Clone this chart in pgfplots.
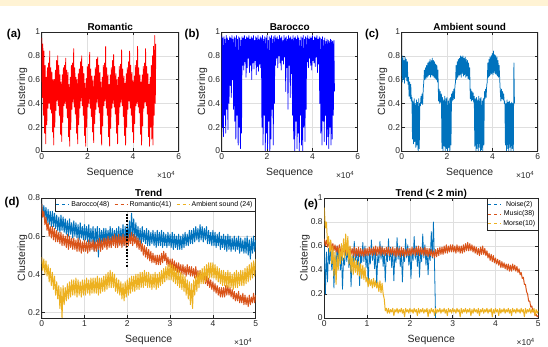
\documentclass[border=0pt]{standalone}
\usepackage{pgfplots}
\pgfplotsset{compat=1.18}
\usepackage{fontspec}
\setmainfont{Liberation Sans}
\definecolor{mblue}{HTML}{0072BD}
\definecolor{morange}{HTML}{D95319}
\definecolor{myellow}{HTML}{EDB120}
\definecolor{axgray}{HTML}{262626}
\definecolor{gridc}{HTML}{DFDFDF}
\definecolor{cream}{HTML}{FFF3D4}
\pgfplotsset{
  panel/.style={
    scale only axis, anchor=south west,
    axis line style={axgray, line width=0.5pt},
    tick style={axgray, line width=0.5pt},
    major tick length=3bp, tick align=inside,
    grid=major, major grid style={gridc, line width=0.4pt},
    ticklabel style={font=\fontsize{8.5}{9}\selectfont, text=axgray},
    yticklabel style={inner sep=1.5bp},
    xticklabel style={inner sep=2bp},
    /pgf/number format/assume math mode=true,
    xlabel style={font=\fontsize{10.5}{11}\selectfont, text=axgray, yshift=-3bp},
    ylabel style={font=\fontsize{10.5}{11}\selectfont, text=axgray, yshift=-4bp},
    title style={font=\bfseries\fontsize{10}{11}\selectfont, text depth=0pt, yshift=-8bp},
    xlabel={Sequence}, ylabel={Clustering},
  },
  sig/.style={line width=0.75pt, line join=round, forget plot},
}
\newcommand{\xten}[1]{\node[anchor=east, font=\fontsize{8.5}{9}\selectfont, text=axgray] at ([yshift=-24bp]#1.south east) {×10\textsuperscript{4}};}
\begin{document}
\begin{tikzpicture}
\path[use as bounding box] (0,0) rectangle (548bp,347bp);
\fill[white] (0,0) rectangle (548bp,347bp);
\fill[cream] (0,341bp) rectangle (548bp,347bp);

% (a) Romantic
\begin{axis}[panel, name=a, at={(41.7bp,196bp)}, width=137bp, height=119bp,
  xmin=0, xmax=6, ymin=0, ymax=1, xtick={0,2,4,6}, ytick={0,0.2,0.4,0.6,0.8,1}, title={Romantic}]
\addplot[sig, red] table[row sep=\\, y=y, x expr=\coordindex*0.025] {y\\
0.95\\0.45\\0.90\\0.30\\0.84\\0.15\\0.72\\0.06\\
0.62\\0.22\\0.70\\0.36\\0.74\\0.40\\0.84\\0.35\\0.70\\0.32\\0.66\\0.16\\0.60\\0.05\\
0.60\\0.20\\0.68\\0.34\\0.76\\0.42\\0.80\\0.38\\0.72\\0.30\\0.64\\0.14\\0.58\\0.08\\
0.64\\0.24\\0.70\\0.38\\0.72\\0.40\\0.78\\0.36\\0.68\\0.28\\0.66\\0.12\\0.56\\0.04\\
0.62\\0.18\\0.72\\0.35\\0.74\\0.41\\0.86\\0.37\\0.70\\0.31\\0.62\\0.15\\0.60\\0.06\\
0.65\\0.22\\0.69\\0.36\\0.75\\0.42\\0.80\\0.38\\0.71\\0.30\\0.65\\0.13\\0.57\\0.04\\
0.61\\0.20\\0.71\\0.37\\0.73\\0.40\\0.83\\0.36\\0.69\\0.29\\0.63\\0.16\\0.59\\0.07\\
0.63\\0.23\\0.70\\0.35\\0.77\\0.41\\0.79\\0.37\\0.72\\0.32\\0.66\\0.14\\0.58\\0.05\\
0.62\\0.21\\0.72\\0.38\\0.74\\0.42\\0.88\\0.36\\0.70\\0.30\\0.64\\0.12\\0.56\\0.04\\
0.64\\0.19\\0.70\\0.36\\0.76\\0.40\\0.81\\0.37\\0.71\\0.31\\0.65\\0.15\\0.60\\0.06\\
0.62\\0.22\\0.71\\0.37\\0.73\\0.41\\0.85\\0.38\\0.69\\0.29\\0.63\\0.13\\0.57\\0.05\\
0.65\\0.20\\0.70\\0.35\\0.75\\0.42\\0.84\\0.36\\0.72\\0.30\\0.66\\0.16\\0.59\\0.07\\
0.63\\0.23\\0.72\\0.38\\0.76\\0.40\\0.88\\0.37\\0.70\\0.32\\0.64\\0.14\\0.58\\0.05\\
0.64\\0.21\\0.71\\0.36\\0.74\\0.41\\0.86\\0.38\\0.71\\0.31\\0.65\\0.12\\0.56\\0.04\\
0.62\\0.20\\0.72\\0.10\\0.80\\0.05\\0.88\\0.30\\0.97\\0.40\\0.90\\
};
\end{axis}

% (b) Barocco
\begin{axis}[panel, name=b, at={(221.7bp,196bp)}, width=136bp, height=119bp,
  xmin=0, xmax=6, ymin=0, ymax=1, xtick={0,2,4,6}, ytick={0,0.2,0.4,0.6,0.8,1}, title={Barocco}]
\addplot[sig, blue] table[row sep=\\, y=y, x expr=\coordindex*0.025] {y\\
0.97\\0.20\\0.95\\0.12\\0.96\\0.30\\0.94\\0.15\\0.97\\0.35\\0.95\\0.18\\0.93\\0.40\\
0.96\\0.55\\0.95\\0.45\\0.97\\0.60\\0.94\\0.35\\0.96\\0.25\\
0.95\\0.10\\0.97\\0.30\\0.94\\0.05\\0.96\\0.20\\0.95\\0.02\\0.93\\0.15\\0.96\\
0.72\\0.95\\0.68\\0.97\\0.75\\0.94\\0.62\\0.96\\0.70\\0.95\\0.78\\0.97\\0.66\\0.94\\0.72\\0.96\\0.60\\0.95\\0.74\\0.97\\
0.69\\0.93\\0.76\\0.96\\0.64\\0.95\\0.71\\0.97\\0.67\\0.94\\0.73\\0.96\\0.70\\
0.95\\0.20\\0.97\\0.05\\0.94\\0.30\\0.96\\0.00\\0.95\\0.15\\0.97\\0.02\\0.93\\0.25\\0.96\\0.00\\0.95\\0.10\\0.97\\0.35\\0.94\\0.05\\0.96\\0.40\\
0.97\\0.72\\0.95\\0.78\\0.96\\0.70\\0.94\\0.80\\0.97\\0.74\\0.95\\0.68\\0.96\\0.76\\0.93\\0.73\\0.97\\0.79\\
0.95\\0.50\\0.96\\0.70\\0.94\\0.35\\0.97\\0.72\\0.95\\0.45\\0.96\\0.65\\0.94\\0.30\\
0.97\\0.10\\0.95\\0.00\\0.96\\0.25\\0.94\\0.02\\0.97\\0.15\\0.95\\0.00\\0.93\\0.30\\0.96\\0.05\\0.95\\0.00\\0.97\\0.20\\0.94\\0.08\\0.96\\0.35\\0.95\\
0.75\\0.97\\0.70\\0.94\\0.78\\0.96\\0.72\\0.95\\0.68\\0.97\\0.76\\0.93\\0.74\\0.96\\0.71\\0.95\\0.79\\0.97\\0.66\\0.94\\0.73\\0.96\\
0.40\\0.95\\0.15\\0.94\\0.05\\0.96\\0.25\\0.93\\0.08\\0.95\\0.30\\0.92\\0.05\\0.94\\0.12\\0.93\\0.02\\0.92\\0.20\\0.94\\0.05\\0.93\\0.10\\0.92\\0.30\\0.93\\0.50\\
};
\end{axis}

% (c) Ambient sound
\begin{axis}[panel, name=c, at={(401.7bp,196bp)}, width=136bp, height=119bp,
  xmin=0, xmax=6, ymin=0, ymax=1, xtick={0,2,4,6}, ytick={0,0.2,0.4,0.6,0.8,1}, title={Ambient sound}]
\addplot[sig, mblue] table[row sep=\\, y=y, x expr=\coordindex*0.025] {y\\
0.78\\0.58\\0.80\\0.60\\0.76\\0.57\\0.79\\0.62\\0.77\\0.59\\0.75\\0.56\\
0.62\\0.46\\0.58\\0.44\\0.56\\0.42\\
0.45\\0.10\\0.42\\0.06\\0.44\\0.08\\0.40\\0.03\\0.43\\0.05\\0.41\\0.00\\0.44\\0.02\\0.40\\
0.38\\0.46\\0.40\\0.48\\0.39\\0.52\\
0.58\\0.68\\0.60\\0.70\\0.61\\0.72\\0.62\\0.74\\0.63\\0.75\\0.64\\0.77\\0.62\\0.76\\0.64\\0.78\\0.63\\0.76\\0.62\\0.75\\0.61\\0.73\\0.60\\0.72\\0.58\\0.68\\
0.42\\0.52\\0.40\\0.50\\0.41\\0.48\\
0.02\\0.45\\0.00\\0.43\\0.04\\0.46\\0.00\\0.44\\0.02\\0.45\\0.00\\0.42\\0.03\\0.44\\0.00\\0.45\\0.05\\
0.48\\0.42\\0.50\\0.43\\0.52\\0.44\\0.55\\0.58\\
0.72\\0.60\\0.75\\0.62\\0.77\\0.63\\0.78\\0.64\\0.80\\0.62\\0.79\\0.65\\0.80\\0.63\\0.78\\0.64\\0.79\\0.62\\0.77\\0.63\\0.76\\0.61\\0.74\\0.60\\0.70\\
0.44\\0.52\\0.42\\0.50\\0.43\\0.49\\0.41\\
0.46\\0.04\\0.44\\0.00\\0.45\\0.02\\0.43\\0.00\\0.46\\0.03\\0.44\\0.00\\0.45\\0.01\\0.42\\0.00\\0.44\\0.05\\
0.50\\0.44\\0.52\\0.45\\0.55\\0.58\\
0.74\\0.62\\0.77\\0.63\\0.79\\0.64\\0.80\\0.65\\0.82\\0.64\\0.84\\0.66\\0.81\\0.65\\0.80\\0.64\\0.79\\0.63\\0.76\\0.62\\0.72\\0.60\\
0.50\\0.42\\0.52\\0.44\\0.50\\0.43\\0.48\\0.40\\
0.42\\0.05\\0.40\\0.00\\0.43\\0.02\\0.41\\0.00\\0.42\\0.03\\0.40\\0.00\\0.41\\0.02\\0.40\\0.00\\
0.74\\0.40\\
};
\end{axis}

% (d) Trend
\begin{axis}[panel, name=d, at={(41.7bp,29bp)}, width=214bp, height=120bp,
  xmin=0, xmax=5, ymin=0.17, ymax=0.8, xtick={0,1,2,3,4,5}, ytick={0.2,0.4,0.6,0.8}, title={Trend},
  legend columns=3,
  legend style={at={(1,1)}, anchor=north east, font=\fontsize{7}{8}\selectfont, draw=axgray, line width=0.4pt,
    inner sep=1pt, /tikz/every even column/.append style={column sep=3pt}},
  legend image code/.code={\draw[#1] (0cm,0cm) -- (0.45cm,0cm);}]
\addlegendimage{mblue, dashed, line width=0.5pt}\addlegendentry{Barocco(48)}
\addlegendimage{morange, dashed, line width=0.5pt}\addlegendentry{Romantic(41)}
\addlegendimage{myellow, dashed, line width=0.5pt}\addlegendentry{Ambient sound (24)}
\addplot[sig, mblue, line width=1pt] table[row sep=\\, y=y, x expr=\coordindex*0.025] {y\\
0.77\\0.70\\0.76\\0.69\\0.75\\0.67\\0.74\\0.66\\0.73\\0.65\\
0.73\\0.65\\0.72\\0.64\\0.71\\0.63\\0.70\\0.62\\0.71\\0.63\\
0.70\\0.62\\0.69\\0.61\\0.68\\0.60\\0.69\\0.61\\0.67\\0.59\\
0.68\\0.60\\0.67\\0.59\\0.66\\0.58\\0.67\\0.59\\0.65\\0.58\\
0.66\\0.58\\0.65\\0.57\\0.66\\0.56\\0.64\\0.57\\0.65\\0.52\\
0.64\\0.57\\0.65\\0.49\\0.64\\0.56\\0.63\\0.57\\0.64\\0.56\\
0.64\\0.56\\0.63\\0.57\\0.65\\0.55\\0.64\\0.56\\0.63\\0.57\\
0.64\\0.55\\0.65\\0.56\\0.64\\0.57\\0.66\\0.55\\0.65\\0.57\\
0.66\\0.57\\0.68\\0.59\\0.72\\0.60\\0.69\\0.59\\0.67\\0.58\\
0.65\\0.57\\0.64\\0.56\\0.65\\0.57\\0.63\\0.56\\0.64\\0.55\\
0.63\\0.55\\0.62\\0.56\\0.63\\0.55\\0.62\\0.54\\0.63\\0.55\\
0.62\\0.55\\0.63\\0.54\\0.62\\0.55\\0.61\\0.54\\0.62\\0.55\\
0.61\\0.54\\0.62\\0.53\\0.61\\0.54\\0.60\\0.53\\0.61\\0.53\\
0.60\\0.53\\0.61\\0.54\\0.62\\0.55\\0.61\\0.55\\0.63\\0.56\\
0.63\\0.56\\0.64\\0.57\\0.65\\0.58\\0.64\\0.57\\0.66\\0.58\\
0.65\\0.57\\0.64\\0.58\\0.65\\0.56\\0.63\\0.56\\0.62\\0.55\\
0.63\\0.55\\0.62\\0.54\\0.61\\0.55\\0.62\\0.53\\0.60\\0.54\\
0.61\\0.53\\0.60\\0.52\\0.61\\0.53\\0.60\\0.52\\0.59\\0.53\\
0.60\\0.52\\0.59\\0.53\\0.60\\0.51\\0.59\\0.52\\0.58\\0.51\\
0.59\\0.51\\0.60\\0.50\\0.58\\0.48\\0.59\\0.51\\0.60\\0.52\\
0.58\\
};
\addplot[sig, morange, line width=1pt] table[row sep=\\, y=y, x expr=\coordindex*0.025] {y\\
0.77\\0.70\\0.73\\0.66\\0.70\\0.63\\0.67\\0.60\\0.65\\0.59\\
0.65\\0.58\\0.64\\0.57\\0.63\\0.57\\0.62\\0.56\\0.62\\0.55\\
0.61\\0.55\\0.60\\0.54\\0.61\\0.53\\0.60\\0.54\\0.59\\0.53\\
0.59\\0.53\\0.58\\0.52\\0.59\\0.52\\0.58\\0.51\\0.57\\0.52\\
0.58\\0.52\\0.57\\0.51\\0.58\\0.52\\0.57\\0.53\\0.58\\0.52\\
0.57\\0.52\\0.58\\0.53\\0.59\\0.52\\0.58\\0.53\\0.59\\0.54\\
0.59\\0.53\\0.60\\0.54\\0.59\\0.54\\0.60\\0.55\\0.61\\0.54\\
0.60\\0.54\\0.61\\0.55\\0.60\\0.54\\0.61\\0.55\\0.60\\0.54\\
0.60\\0.55\\0.61\\0.56\\0.62\\0.55\\0.61\\0.56\\0.60\\0.54\\
0.59\\0.53\\0.58\\0.52\\0.56\\0.50\\0.55\\0.49\\0.54\\0.48\\
0.53\\0.47\\0.52\\0.46\\0.51\\0.46\\0.50\\0.45\\0.50\\0.45\\
0.50\\0.45\\0.51\\0.46\\0.52\\0.47\\0.51\\0.45\\0.49\\0.44\\
0.48\\0.43\\0.48\\0.42\\0.47\\0.42\\0.46\\0.41\\0.46\\0.41\\
0.45\\0.40\\0.45\\0.40\\0.44\\0.39\\0.45\\0.40\\0.44\\0.39\\
0.44\\0.39\\0.43\\0.38\\0.44\\0.38\\0.42\\0.37\\0.42\\0.37\\
0.41\\0.36\\0.40\\0.35\\0.39\\0.34\\0.38\\0.33\\0.37\\0.32\\
0.36\\0.31\\0.35\\0.30\\0.34\\0.29\\0.33\\0.28\\0.33\\0.28\\
0.33\\0.28\\0.34\\0.29\\0.34\\0.29\\0.33\\0.28\\0.32\\0.27\\
0.31\\0.26\\0.30\\0.26\\0.31\\0.25\\0.29\\0.25\\0.30\\0.24\\
0.29\\0.24\\0.28\\0.23\\0.29\\0.24\\0.28\\0.25\\0.30\\0.25\\
0.29\\
};
\addplot[sig, myellow, line width=1pt] table[row sep=\\, y=y, x expr=\coordindex*0.025] {y\\
0.49\\0.42\\0.48\\0.40\\0.47\\0.39\\0.45\\0.36\\0.43\\0.34\\
0.41\\0.32\\0.39\\0.29\\0.36\\0.27\\0.34\\0.22\\0.33\\0.17\\
0.34\\0.24\\0.33\\0.26\\0.35\\0.27\\0.36\\0.28\\0.37\\0.29\\
0.37\\0.29\\0.38\\0.28\\0.37\\0.29\\0.36\\0.28\\0.37\\0.29\\
0.37\\0.29\\0.38\\0.30\\0.37\\0.29\\0.38\\0.30\\0.38\\0.30\\
0.38\\0.30\\0.39\\0.29\\0.38\\0.30\\0.38\\0.31\\0.39\\0.31\\
0.40\\0.32\\0.41\\0.33\\0.42\\0.33\\0.41\\0.33\\0.40\\0.31\\
0.38\\0.30\\0.37\\0.29\\0.36\\0.27\\0.35\\0.26\\0.36\\0.28\\
0.37\\0.29\\0.38\\0.30\\0.39\\0.31\\0.39\\0.31\\0.40\\0.32\\
0.40\\0.32\\0.41\\0.33\\0.41\\0.33\\0.42\\0.34\\0.41\\0.33\\
0.41\\0.33\\0.40\\0.32\\0.40\\0.33\\0.41\\0.32\\0.40\\0.33\\
0.41\\0.34\\0.42\\0.35\\0.43\\0.36\\0.44\\0.37\\0.45\\0.37\\
0.46\\0.37\\0.45\\0.36\\0.44\\0.35\\0.43\\0.34\\0.42\\0.33\\
0.41\\0.32\\0.40\\0.31\\0.39\\0.29\\0.37\\0.27\\0.36\\0.24\\
0.35\\0.22\\0.37\\0.29\\0.39\\0.31\\0.41\\0.33\\0.42\\0.35\\
0.43\\0.35\\0.44\\0.36\\0.45\\0.37\\0.46\\0.38\\0.46\\0.38\\
0.46\\0.38\\0.45\\0.37\\0.44\\0.36\\0.43\\0.35\\0.42\\0.34\\
0.42\\0.34\\0.41\\0.33\\0.42\\0.33\\0.41\\0.33\\0.40\\0.32\\
0.41\\0.33\\0.42\\0.33\\0.41\\0.34\\0.42\\0.34\\0.42\\0.34\\
0.43\\0.35\\0.44\\0.36\\0.45\\0.37\\0.46\\0.38\\0.47\\0.39\\
0.48\\
};
\addplot[black, line width=2pt, dash pattern=on 1.6pt off 1.6pt, forget plot] coordinates {(2,0.44) (2,0.72)};
\end{axis}

% (e) Trend (< 2 min)
\begin{axis}[panel, name=e, at={(324.3bp,29bp)}, width=214bp, height=120bp,
  xmin=0, xmax=5, ymin=0, ymax=1, xtick={0,1,2,3,4,5}, ytick={0,0.2,0.4,0.6,0.8,1}, title={Trend (< 2 min)},
  legend style={at={(1,1)}, anchor=north east, font=\fontsize{7}{8}\selectfont, draw=axgray, line width=0.4pt,
    inner sep=1pt, row sep=-1pt},
  legend image code/.code={\draw[#1] (0cm,0cm) -- (0.45cm,0cm);}]
\addlegendimage{mblue, dashed, line width=0.5pt}\addlegendentry{Noise(2)}
\addlegendimage{morange, dashed, line width=0.5pt}\addlegendentry{Music(38)}
\addlegendimage{myellow, dashed, line width=0.5pt}\addlegendentry{Morse(10)}
\addplot[sig, mblue, line width=0.8pt] table[row sep=\\, y=y, x expr=\coordindex*0.025] {y\\
0.62\\0.20\\0.55\\0.30\\0.58\\0.45\\0.60\\0.40\\
0.55\\0.25\\0.52\\0.42\\0.60\\0.46\\0.58\\0.40\\
0.54\\0.24\\0.50\\0.44\\0.62\\0.47\\0.59\\0.42\\
0.55\\0.26\\0.52\\0.45\\0.64\\0.48\\0.58\\0.41\\
0.54\\0.27\\0.53\\0.46\\0.63\\0.47\\0.60\\0.42\\
0.55\\0.28\\0.54\\0.45\\0.65\\0.48\\0.59\\0.41\\
0.56\\0.27\\0.53\\0.46\\0.64\\0.49\\0.60\\0.43\\
0.55\\0.30\\0.54\\0.47\\0.66\\0.48\\0.59\\0.42\\
0.56\\0.31\\0.55\\0.46\\0.67\\0.49\\0.60\\0.43\\
0.55\\0.30\\0.54\\0.47\\0.66\\0.50\\0.61\\0.44\\
0.56\\0.33\\0.55\\0.48\\0.68\\0.49\\0.60\\0.43\\
0.57\\0.34\\0.56\\0.47\\0.70\\0.50\\0.61\\0.44\\
0.56\\0.36\\0.55\\0.48\\0.72\\0.50\\0.80\\0.45\\
0.00\\
};
\addplot[sig, morange, line width=1pt] table[row sep=\\, y=y, x expr=\coordindex*0.025] {y\\
0.66\\0.60\\0.65\\0.59\\0.64\\0.58\\0.63\\0.57\\0.62\\0.56\\
0.61\\0.55\\0.60\\0.54\\0.61\\0.53\\0.60\\0.54\\0.59\\0.53\\
0.59\\0.53\\0.58\\0.52\\0.59\\0.53\\0.58\\0.52\\0.59\\0.51\\
0.58\\0.52\\0.59\\0.51\\0.58\\0.52\\0.57\\0.51\\0.58\\0.52\\
0.58\\0.52\\0.59\\0.53\\0.58\\0.52\\0.59\\0.53\\0.60\\0.52\\
0.59\\0.53\\0.60\\0.52\\0.59\\0.53\\0.58\\0.52\\0.59\\0.53\\
0.59\\0.52\\0.58\\0.53\\0.59\\0.52\\0.58\\0.51\\0.59\\0.52\\
0.58\\0.51\\0.59\\0.52\\0.58\\0.51\\0.57\\0.52\\0.58\\0.52\\
0.58\\0.52\\0.59\\0.53\\0.58\\0.52\\0.59\\0.53\\0.60\\0.52\\
0.59\\0.53\\0.58\\0.52\\0.59\\0.52\\0.58\\0.51\\0.58\\0.52\\
0.57\\0.51\\0.56\\0.50\\0.57\\0.51\\0.58\\0.52\\0.59\\0.53\\
0.59\\0.53\\0.60\\0.54\\0.61\\0.54\\0.60\\0.55\\0.61\\0.55\\
0.61\\0.55\\0.60\\0.54\\0.61\\0.55\\0.60\\0.54\\0.60\\0.54\\
0.61\\0.55\\0.62\\0.56\\0.63\\0.56\\0.62\\0.56\\0.61\\0.55\\
0.60\\0.54\\0.59\\0.53\\0.58\\0.52\\0.59\\0.53\\0.60\\0.53\\
0.58\\0.52\\0.56\\0.50\\0.54\\0.48\\0.53\\0.47\\0.52\\0.46\\
0.50\\0.45\\0.49\\0.44\\0.48\\0.42\\0.47\\0.42\\0.46\\0.41\\
0.45\\0.40\\0.45\\0.39\\0.44\\0.39\\0.45\\0.40\\0.44\\0.39\\
0.43\\0.38\\0.41\\0.36\\0.38\\0.33\\0.34\\0.28\\0.28\\0.22\\
0.20\\0.14\\0.14\\0.09\\0.10\\0.05\\0.06\\0.02\\0.03\\0.01\\
0.02\\
};
\addplot[sig, myellow, line width=1pt] table[row sep=\\, y=y, x expr=\coordindex*0.025] {y\\
0.92\\0.75\\0.80\\0.62\\0.68\\0.55\\0.65\\0.45\\0.60\\0.35\\
0.55\\0.28\\0.52\\0.40\\0.58\\0.45\\0.62\\0.48\\0.66\\0.50\\
0.70\\0.52\\0.68\\0.45\\0.60\\0.38\\0.52\\0.36\\0.50\\0.38\\
0.48\\0.36\\0.47\\0.35\\0.45\\0.33\\0.44\\0.32\\0.42\\0.30\\
0.34\\0.26\\0.33\\0.27\\0.32\\0.25\\0.33\\0.26\\0.31\\0.25\\
0.30\\0.22\\0.31\\0.21\\0.29\\0.20\\0.16\\0.06\\0.08\\0.04\\
0.08\\0.04\\0.07\\0.05\\0.08\\0.02\\0.07\\0.05\\0.08\\0.04\\
0.07\\0.05\\0.08\\0.04\\0.07\\0.01\\0.08\\0.05\\0.07\\0.04\\
0.08\\0.05\\0.07\\0.04\\0.08\\0.05\\0.07\\0.02\\0.08\\0.04\\
0.07\\0.05\\0.08\\0.04\\0.07\\0.05\\0.08\\0.01\\0.07\\0.04\\
0.08\\0.05\\0.07\\0.02\\0.08\\0.04\\0.07\\0.05\\0.08\\0.04\\
0.07\\0.05\\0.08\\0.04\\0.07\\0.02\\0.08\\0.05\\0.07\\0.04\\
0.08\\0.05\\0.07\\0.04\\0.08\\0.05\\0.07\\0.01\\0.08\\0.04\\
0.07\\0.05\\0.08\\0.04\\0.07\\0.05\\0.08\\0.02\\0.07\\0.04\\
0.08\\0.05\\0.07\\0.04\\0.08\\0.02\\0.07\\0.05\\0.08\\0.04\\
0.07\\0.05\\0.08\\0.04\\0.07\\0.05\\0.08\\0.01\\0.07\\0.04\\
0.08\\0.05\\0.07\\0.02\\0.08\\0.04\\0.07\\0.05\\0.08\\0.04\\
0.07\\0.05\\0.08\\0.04\\0.07\\0.02\\0.08\\0.05\\0.07\\0.04\\
0.08\\0.05\\0.07\\0.04\\0.08\\0.05\\0.07\\0.01\\0.08\\0.04\\
0.07\\0.05\\0.08\\0.04\\0.07\\0.05\\0.08\\0.02\\0.07\\0.04\\
0.06\\
};
\end{axis}

\xten{a}\xten{b}\xten{c}\xten{d}\xten{e}
\begin{scope}[every node/.style={font=\bfseries\fontsize{11.5}{12}\selectfont, text=black}]
\node at (14bp,312bp) {(a)};
\node at (192bp,312bp) {(b)};
\node at (372bp,312bp) {(c)};
\node at (12bp,144bp) {(d)};
\node at (311bp,142bp) {(e)};
\end{scope}
\end{tikzpicture}
\end{document}
